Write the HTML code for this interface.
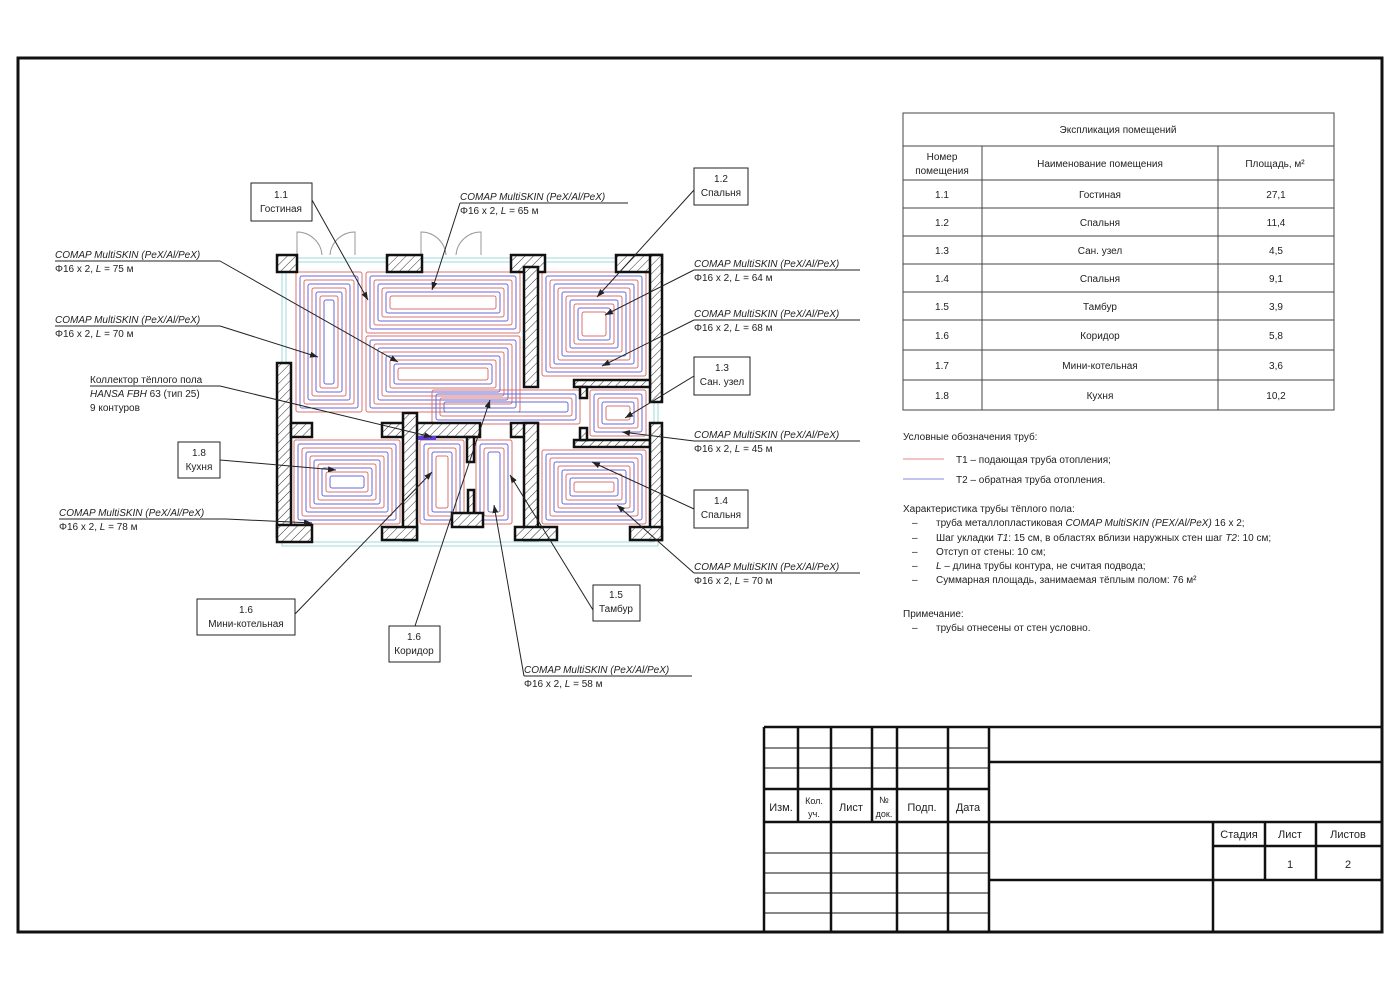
<!DOCTYPE html>
<html><head><meta charset="utf-8"><style>
body{margin:0;background:#fff;}
svg{display:block;}
text{font-family:"Liberation Sans",sans-serif;fill:#222;}
.t{font-size:10px;}
.i{font-size:10px;font-style:italic;}
</style></head><body>
<svg id="s" width="1400" height="989" viewBox="0 0 1400 989" xmlns="http://www.w3.org/2000/svg">
<defs>
<pattern id="h" width="6" height="6" patternUnits="userSpaceOnUse" patternTransform="rotate(45)">
<rect width="6" height="6" fill="#fff"/><line x1="0" y1="0" x2="0" y2="6" stroke="#333" stroke-width="1"/></pattern>
<marker id="a" markerWidth="8" markerHeight="6" refX="8" refY="3" orient="auto"><path d="M0,0 L8,3 L0,6 z" fill="#222"/></marker>
</defs>
<rect x="18" y="58" width="1364" height="874" fill="none" stroke="#111" stroke-width="3"/>

<g stroke="#9dd9dc" fill="none" stroke-width="1">
<rect x="282" y="258" width="376" height="288"/><rect x="286" y="262" width="368" height="280"/>
</g>
<g id="pipes"></g>
<g stroke="#999" fill="none" stroke-width="1">
<path d="M297 255 V232 A25 25 0 0 1 322 255"/><path d="M355 255 V232 A25 25 0 0 0 330 255"/>
<path d="M421 255 V232 A25 25 0 0 1 446 255"/><path d="M481 255 V232 A25 25 0 0 0 456 255"/>
</g>
<g fill="url(#h)" stroke="#111" stroke-width="2.5">
<rect x="277" y="255" width="20" height="17"/>
<rect x="387" y="255" width="35" height="17"/>
<rect x="511" y="255" width="34" height="17"/>
<rect x="616" y="255" width="46" height="17"/>
<rect x="650" y="255" width="12" height="147"/>
<rect x="524" y="267" width="14" height="120"/>
<rect x="277" y="363" width="14" height="174"/>
<rect x="277" y="525" width="35" height="17"/>
<rect x="291" y="423" width="21" height="14"/>
<rect x="382" y="423" width="98" height="14"/>
<rect x="403" y="413" width="14" height="127"/>
<rect x="382" y="527" width="35" height="13"/>
<rect x="467" y="437" width="7" height="25"/>
<rect x="468" y="490" width="6" height="25"/>
<rect x="452" y="513" width="31" height="14"/>
<rect x="511" y="423" width="26" height="14"/>
<rect x="524" y="423" width="14" height="117"/>
<rect x="515" y="527" width="42" height="13"/>
<rect x="574" y="380" width="76" height="7"/>
<rect x="574" y="440" width="76" height="7"/>
<rect x="580" y="387" width="7" height="11"/>
<rect x="580" y="428" width="7" height="12"/>
<rect x="650" y="423" width="12" height="117"/>
<rect x="630" y="527" width="32" height="13"/>
</g>
<rect x="418" y="436" width="18" height="4" fill="#5b3fd6"/>

<g stroke="#222" stroke-width="1" fill="none">
<rect x="251" y="183" width="61" height="38" fill="#fff"/>
<rect x="694" y="168" width="54" height="37" fill="#fff"/>
<rect x="694" y="357" width="56" height="38" fill="#fff"/>
<rect x="694" y="490" width="54" height="38" fill="#fff"/>
<rect x="593" y="585" width="47" height="36" fill="#fff"/>
<rect x="389" y="626" width="51" height="36" fill="#fff"/>
<rect x="197" y="599" width="98" height="36" fill="#fff"/>
<rect x="178" y="442" width="42" height="36" fill="#fff"/>
<line x1="55" y1="261" x2="220" y2="261"/><line x1="220" y1="261" x2="398" y2="362" marker-end="url(#a)"/>
<line x1="55" y1="326" x2="220" y2="326"/><line x1="220" y1="326" x2="318" y2="357" marker-end="url(#a)"/>
<line x1="90" y1="386" x2="220" y2="386"/><line x1="220" y1="386" x2="432" y2="437" marker-end="url(#a)"/>
<line x1="220" y1="460" x2="336" y2="470" marker-end="url(#a)"/>
<line x1="59" y1="519" x2="226" y2="519"/><line x1="226" y1="519" x2="312" y2="523" marker-end="url(#a)"/>
<line x1="295" y1="614" x2="432" y2="472" marker-end="url(#a)"/>
<line x1="415" y1="626" x2="490" y2="400" marker-end="url(#a)"/>
<line x1="524" y1="676" x2="692" y2="676"/><line x1="524" y1="676" x2="494" y2="505" marker-end="url(#a)"/>
<line x1="593" y1="610" x2="510" y2="475" marker-end="url(#a)"/>
<line x1="694" y1="509" x2="592" y2="462" marker-end="url(#a)"/>
<line x1="694" y1="573" x2="860" y2="573"/><line x1="694" y1="573" x2="617" y2="505" marker-end="url(#a)"/>
<line x1="694" y1="441" x2="860" y2="441"/><line x1="694" y1="441" x2="622" y2="432" marker-end="url(#a)"/>
<line x1="694" y1="376" x2="625" y2="418" marker-end="url(#a)"/>
<line x1="694" y1="320" x2="860" y2="320"/><line x1="694" y1="320" x2="602" y2="366" marker-end="url(#a)"/>
<line x1="694" y1="270" x2="860" y2="270"/><line x1="694" y1="270" x2="605" y2="315" marker-end="url(#a)"/>
<line x1="694" y1="190" x2="597" y2="297" marker-end="url(#a)"/>
<line x1="460" y1="203" x2="628" y2="203"/><line x1="460" y1="203" x2="432" y2="290" marker-end="url(#a)"/>
<line x1="312" y1="200" x2="368" y2="300" marker-end="url(#a)"/>
</g>
<g class="t" text-anchor="middle">
<text x="281" y="198">1.1</text><text x="281" y="212">Гостиная</text>
<text x="721" y="182">1.2</text><text x="721" y="196">Спальня</text>
<text x="722" y="371">1.3</text><text x="722" y="385">Сан. узел</text>
<text x="721" y="504">1.4</text><text x="721" y="518">Спальня</text>
<text x="616" y="598">1.5</text><text x="616" y="612">Тамбур</text>
<text x="414" y="640">1.6</text><text x="414" y="654">Коридор</text>
<text x="246" y="613">1.6</text><text x="246" y="627">Мини-котельная</text>
<text x="199" y="456">1.8</text><text x="199" y="470">Кухня</text>
</g>
<g class="t">
<text x="55" y="258" class="i">COMAP MultiSKIN (PeX/Al/PeX)</text><text x="55" y="272">Φ16 x 2, <tspan font-style="italic">L</tspan> = 75 м</text>
<text x="55" y="323" class="i">COMAP MultiSKIN (PeX/Al/PeX)</text><text x="55" y="337">Φ16 x 2, <tspan font-style="italic">L</tspan> = 70 м</text>
<text x="90" y="383">Коллектор тёплого пола</text><text x="90" y="397"><tspan font-style="italic">HANSA FBH</tspan> 63 (тип 25)</text><text x="90" y="411">9 контуров</text>
<text x="59" y="516" class="i">COMAP MultiSKIN (PeX/Al/PeX)</text><text x="59" y="530">Φ16 x 2, <tspan font-style="italic">L</tspan> = 78 м</text>
<text x="460" y="200" class="i">COMAP MultiSKIN (PeX/Al/PeX)</text><text x="460" y="214">Φ16 x 2, <tspan font-style="italic">L</tspan> = 65 м</text>
<text x="694" y="267" class="i">COMAP MultiSKIN (PeX/Al/PeX)</text><text x="694" y="281">Φ16 x 2, <tspan font-style="italic">L</tspan> = 64 м</text>
<text x="694" y="317" class="i">COMAP MultiSKIN (PeX/Al/PeX)</text><text x="694" y="331">Φ16 x 2, <tspan font-style="italic">L</tspan> = 68 м</text>
<text x="694" y="438" class="i">COMAP MultiSKIN (PeX/Al/PeX)</text><text x="694" y="452">Φ16 x 2, <tspan font-style="italic">L</tspan> = 45 м</text>
<text x="694" y="570" class="i">COMAP MultiSKIN (PeX/Al/PeX)</text><text x="694" y="584">Φ16 x 2, <tspan font-style="italic">L</tspan> = 70 м</text>
<text x="524" y="673" class="i">COMAP MultiSKIN (PeX/Al/PeX)</text><text x="524" y="687">Φ16 x 2, <tspan font-style="italic">L</tspan> = 58 м</text>
</g>

<g stroke="#444" stroke-width="1" fill="none">
<rect x="903" y="113" width="431" height="297"/>
<line x1="903" y1="146" x2="1334" y2="146"/>
<line x1="903" y1="180" x2="1334" y2="180"/><line x1="903" y1="208" x2="1334" y2="208"/>
<line x1="903" y1="236" x2="1334" y2="236"/><line x1="903" y1="264" x2="1334" y2="264"/>
<line x1="903" y1="292" x2="1334" y2="292"/><line x1="903" y1="320" x2="1334" y2="320"/>
<line x1="903" y1="350" x2="1334" y2="350"/><line x1="903" y1="380" x2="1334" y2="380"/>
<line x1="982" y1="146" x2="982" y2="410"/><line x1="1218" y1="146" x2="1218" y2="410"/>
</g>
<g class="t" text-anchor="middle">
<text x="1118" y="133">Экспликация помещений</text>
<text x="942" y="160">Номер</text><text x="942" y="174">помещения</text>
<text x="1100" y="167">Наименование помещения</text><text x="1275" y="167">Площадь, м²</text>
<text x="942" y="198">1.1</text><text x="1100" y="198">Гостиная</text><text x="1276" y="198">27,1</text>
<text x="942" y="226">1.2</text><text x="1100" y="226">Спальня</text><text x="1276" y="226">11,4</text>
<text x="942" y="254">1.3</text><text x="1100" y="254">Сан. узел</text><text x="1276" y="254">4,5</text>
<text x="942" y="282">1.4</text><text x="1100" y="282">Спальня</text><text x="1276" y="282">9,1</text>
<text x="942" y="310">1.5</text><text x="1100" y="310">Тамбур</text><text x="1276" y="310">3,9</text>
<text x="942" y="339">1.6</text><text x="1100" y="339">Коридор</text><text x="1276" y="339">5,8</text>
<text x="942" y="369">1.7</text><text x="1100" y="369">Мини-котельная</text><text x="1276" y="369">3,6</text>
<text x="942" y="399">1.8</text><text x="1100" y="399">Кухня</text><text x="1276" y="399">10,2</text>
</g>
<line x1="903" y1="459" x2="944" y2="459" stroke="#e08a8a"/>
<line x1="903" y1="479" x2="944" y2="479" stroke="#8a8ae0"/>
<g class="t">
<text x="903" y="440">Условные обозначения труб:</text>
<text x="956" y="463">Т1 – подающая труба отопления;</text>
<text x="956" y="483">Т2 – обратная труба отопления.</text>
<text x="903" y="512">Характеристика трубы тёплого пола:</text>
<text x="912" y="526">–</text><text x="936" y="526">труба металлопластиковая <tspan font-style="italic">COMAP MultiSKIN (PEX/Al/PeX)</tspan> 16 x 2;</text>
<text x="912" y="541">–</text><text x="936" y="541">Шаг укладки <tspan font-style="italic">T1</tspan>: 15 см, в областях вблизи наружных стен шаг <tspan font-style="italic">T2</tspan>: 10 см;</text>
<text x="912" y="555">–</text><text x="936" y="555">Отступ от стены: 10 см;</text>
<text x="912" y="569">–</text><text x="936" y="569"><tspan font-style="italic">L</tspan> – длина трубы контура, не считая подвода;</text>
<text x="912" y="583">–</text><text x="936" y="583">Суммарная площадь, занимаемая тёплым полом: 76 м²</text>
<text x="903" y="617">Примечание:</text>
<text x="912" y="631">–</text><text x="936" y="631">трубы отнесены от стен условно.</text>
</g>

<g stroke="#111" fill="none">
<g stroke-width="1">
<line x1="764" y1="748" x2="989" y2="748"/><line x1="764" y1="768" x2="989" y2="768"/>
<line x1="764" y1="853" x2="989" y2="853"/><line x1="764" y1="873" x2="989" y2="873"/>
<line x1="764" y1="893" x2="989" y2="893"/><line x1="764" y1="913" x2="989" y2="913"/>
</g>
<g stroke-width="2.5">
<line x1="764" y1="727" x2="1382" y2="727"/><line x1="764" y1="727" x2="764" y2="932"/>
<line x1="764" y1="789" x2="989" y2="789"/><line x1="764" y1="822" x2="1382" y2="822"/>
<line x1="989" y1="762" x2="1382" y2="762"/>
<line x1="989" y1="880" x2="1382" y2="880"/>
<line x1="798" y1="727" x2="798" y2="822"/><line x1="831" y1="727" x2="831" y2="932"/>
<line x1="872" y1="727" x2="872" y2="822"/><line x1="897" y1="727" x2="897" y2="932"/>
<line x1="948" y1="727" x2="948" y2="932"/><line x1="989" y1="727" x2="989" y2="932"/>
<line x1="1213" y1="822" x2="1213" y2="932"/><line x1="1265" y1="822" x2="1265" y2="880"/>
<line x1="1316" y1="822" x2="1316" y2="880"/><line x1="1213" y1="846" x2="1382" y2="846"/>
</g></g>
<g font-size="11" text-anchor="middle" fill="#333">
<text x="781" y="811" font-size="11">Изм.</text>
<text x="814" y="804" font-size="9">Кол.</text><text x="814" y="817" font-size="9">уч.</text>
<text x="851" y="811">Лист</text>
<text x="884" y="803" font-size="9">№</text><text x="884" y="817" font-size="9">док.</text>
<text x="922" y="811">Подп.</text><text x="968" y="811">Дата</text>
<text x="1239" y="838">Стадия</text><text x="1290" y="838">Лист</text><text x="1348" y="838">Листов</text>
<text x="1290" y="868">1</text><text x="1348" y="868">2</text>
</g>
</svg>
<script>
(function(){
var g=document.getElementById('pipes'),ns='http://www.w3.org/2000/svg';
function room(x1,y1,x2,y2,step,minw,minh){
 var i=0;
 while(x2-x1>minw && y2-y1>minh){
  var r=document.createElementNS(ns,'rect');
  r.setAttribute('x',x1);r.setAttribute('y',y1);
  r.setAttribute('width',x2-x1);r.setAttribute('height',y2-y1);
  r.setAttribute('rx',2);r.setAttribute('fill','none');
  r.setAttribute('stroke',i%2?'#6a6ad8':'#d87070');r.setAttribute('stroke-width','1');
  g.appendChild(r);x1+=step;y1+=step;x2-=step;y2-=step;i++;
 }
}
room(296,272,362,412,4,6,6);
room(366,272,520,333,4,8,6);
room(366,336,520,412,4,8,6);
room(542,272,646,376,4,16,6);
room(432,390,580,424,4,10,4);
room(590,390,646,436,4,10,6);
room(294,440,400,524,4,8,8);
room(420,440,464,524,4,6,6);
room(476,440,512,524,4,6,6);
room(542,450,646,524,4,16,6);
})();
</script>
</body></html>
